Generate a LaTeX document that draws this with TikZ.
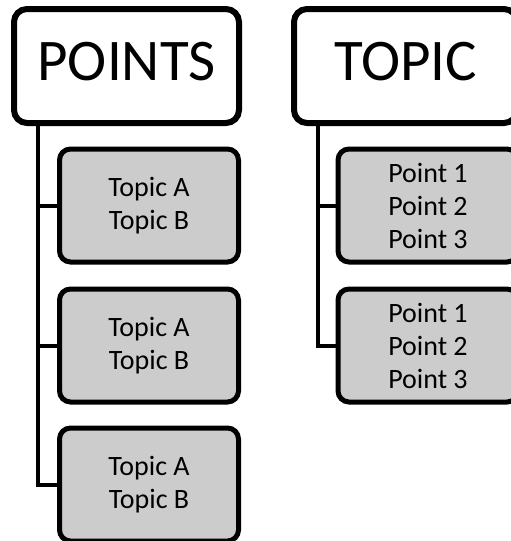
\documentclass[tikz,border=0pt]{standalone}
\usepackage{fontspec}
\setmainfont{Carlito}
\usetikzlibrary{backgrounds}

\tikzset{
  titlebox/.style={draw=black, line width=6pt, fill=white, rounded corners=13pt,
    inner sep=0pt, outer sep=0pt, text height=40pt, text depth=12pt,
    font=\fontsize{59}{70}\selectfont},
  itembox/.style={draw=black, line width=5pt, fill=gray!40, rounded corners=11pt,
    inner sep=0pt, outer sep=0pt, align=center,
    font=\fontsize{28}{33}\selectfont},
  trunk/.style={draw=black, line width=4pt},
}

\begin{document}
\begin{tikzpicture}[x=1pt, y=-1pt]
  \useasboundingbox (0,0) rectangle (511,541);

  % column headers
  \node[titlebox, minimum width=225pt, minimum height=114pt] (pts) at (126.5,66) {POINTS};
  \node[titlebox, minimum width=223pt, minimum height=114pt] (tpc) at (405.5,66) {TOPIC};

  % left column items
  \node[itembox, minimum width=179pt, minimum height=113pt] (a1) at (149,205.5) {Topic A\\Topic B};
  \node[itembox, minimum width=179pt, minimum height=113pt] (a2) at (149,345.5) {Topic A\\Topic B};
  \node[itembox, minimum width=179pt, minimum height=113pt] (a3) at (149,484.5) {Topic A\\Topic B};

  % right column items
  \node[itembox, minimum width=180pt, minimum height=113pt] (b1) at (428,205.5) {Point 1\\Point 2\\Point 3};
  \node[itembox, minimum width=180pt, minimum height=113pt] (b2) at (428,345.5) {Point 1\\Point 2\\Point 3};

  % trunks and branches behind the boxes
  \coordinate (tl) at ([xshift=24pt]pts.south west);
  \coordinate (tr) at ([xshift=24pt]tpc.south west);
  \begin{pgfonlayer}{background}
    \draw[trunk] (tl) |- (a1.west);
    \draw[trunk] (tl) |- (a2.west);
    \draw[trunk] (tl) |- (a3.west);
    \draw[trunk] (tr) |- (b1.west);
    \draw[trunk] (tr) |- (b2.west);
  \end{pgfonlayer}
\end{tikzpicture}
\end{document}
